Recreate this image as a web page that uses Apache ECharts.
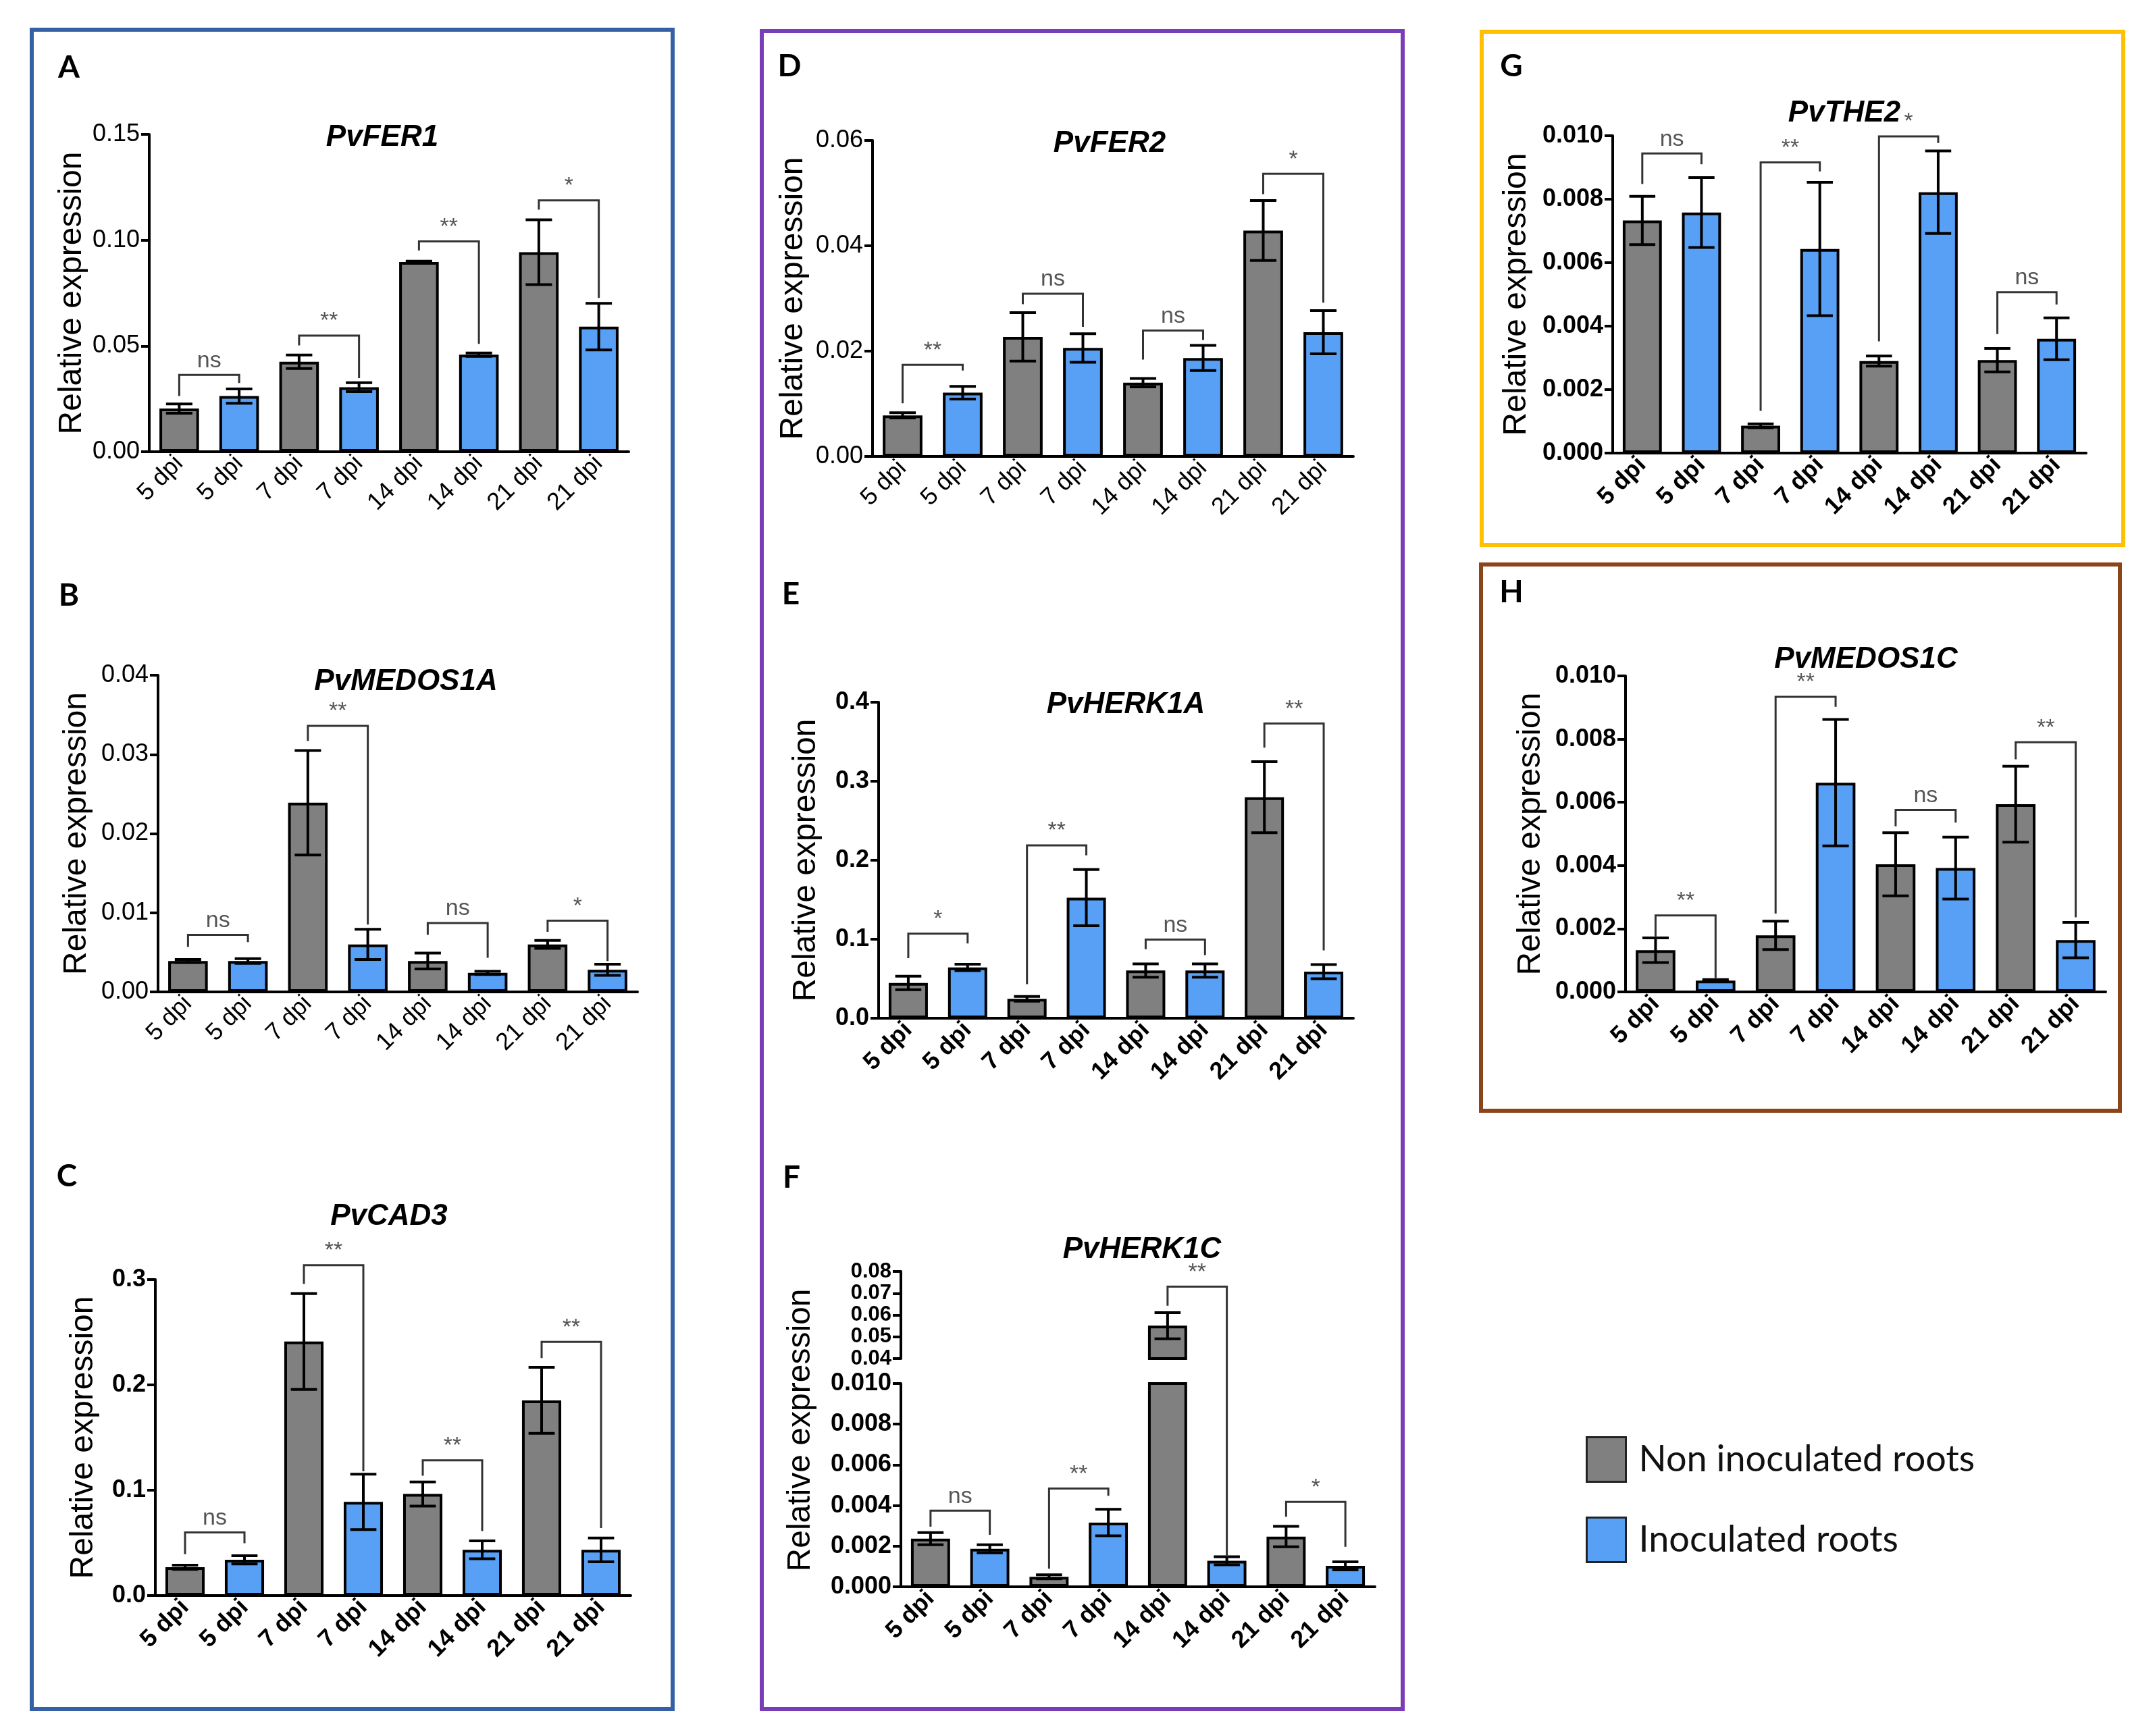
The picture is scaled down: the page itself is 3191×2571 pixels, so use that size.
<!DOCTYPE html>
<html>
<head>
<meta charset="utf-8">
<title>Relative expression - qRT-PCR panels A-H</title>
<script src="https://cdn.jsdelivr.net/npm/echarts@6.0.0/dist/echarts.min.js"></script>
<style>
  html, body { margin: 0; padding: 0; background: #fff; }
  #chart { width: 3191px; height: 2571px; }
</style>
</head>
<body>
<div id="chart"></div>
<script>
// categories, same on every panel (grey = non inoculated, blue = inoculated)
var dpi = ['5 dpi', '5 dpi', '7 dpi', '7 dpi', '14 dpi', '14 dpi', '21 dpi', '21 dpi'];
var groups = ['Non inoculated roots', 'Inoculated roots'];

// A - PvFER1
var fer1Mean = [0.0204, 0.0263, 0.0425, 0.0305, 0.0897, 0.0459, 0.0943, 0.0591];
var fer1Err = [0.0022, 0.0034, 0.0032, 0.0021, 0.0004, 0.0008, 0.0153, 0.011];
var fer1Sig = ['ns', '**', '**', '*'];
// bracket: [top, left leg end, right leg end]
var fer1Brk = [[0.0363, 0.0263, 0.0325], [0.0549, 0.0503, 0.0348], [0.0994, 0.0951, 0.051], [0.1188, 0.1144, 0.0727]];

// B - PvMEDOS1A
var medos1aMean = [0.0039, 0.0039, 0.0239, 0.006, 0.0039, 0.0024, 0.006, 0.0028];
var medos1aErr = [0.0002, 0.0003, 0.0066, 0.0019, 0.001, 0.0002, 0.0005, 0.0007];
var medos1aSig = ['ns', '**', 'ns', '*'];
var medos1aBrk = [[0.0072, 0.0057, 0.0063], [0.0336, 0.0317, 0.0085], [0.0087, 0.0072, 0.0043], [0.009, 0.0076, 0.0039]];

// C - PvCAD3
var cad3Mean = [0.0269, 0.0339, 0.2412, 0.089, 0.0964, 0.0434, 0.1853, 0.0434];
var cad3Err = [0.002, 0.004, 0.0455, 0.0263, 0.0115, 0.0085, 0.0313, 0.0113];
var cad3Sig = ['ns', '**', '**', '**'];
var cad3Brk = [[0.06, 0.0393, 0.0496], [0.3136, 0.2958, 0.1179], [0.1283, 0.1138, 0.0612], [0.2408, 0.2255, 0.0641]];

// D - PvFER2
var fer2Mean = [0.0078, 0.0121, 0.0227, 0.0206, 0.014, 0.0187, 0.0429, 0.0236];
var fer2Err = [0.0005, 0.0012, 0.0046, 0.0027, 0.0008, 0.0024, 0.0057, 0.0041];
var fer2Sig = ['**', 'ns', 'ns', '*'];
var fer2Brk = [[0.0174, 0.0101, 0.0163], [0.0309, 0.0289, 0.0246], [0.0239, 0.0184, 0.0221], [0.0537, 0.0498, 0.0292]];

// E - PvHERK1A
var herk1aMean = [0.0447, 0.0643, 0.0245, 0.1526, 0.0604, 0.0604, 0.2798, 0.0589];
var herk1aErr = [0.0086, 0.004, 0.003, 0.0356, 0.0085, 0.0085, 0.045, 0.009];
var herk1aSig = ['*', '**', 'ns', '**'];
var herk1aBrk = [[0.107, 0.0761, 0.0947], [0.2189, 0.0432, 0.2061], [0.0996, 0.0874, 0.08], [0.373, 0.3426, 0.0859]];

// F - PvHERK1C (broken axis)
var herk1cMean = [0.00237, 0.00187, 0.00049, 0.00316, 0.0551, 0.00128, 0.00247, 0.00103];
var herk1cErr = [0.0003, 0.0002, 0.0001, 0.00065, 0.006, 0.0002, 0.0005, 0.0002];
var herk1cSig = ['ns', '**', '**', '*'];
var herk1cBrk = [[0.00375, 0.00296, 0.00256], [0.00483, 0.00089, 0.00448], [0.073, 0.0643, 0.00148], [0.00418, 0.00345, 0.00197]];

// G - PvTHE2
var the2Mean = [0.00733, 0.00758, 0.00086, 0.00643, 0.0029, 0.00822, 0.00293, 0.0036];
var the2Err = [0.00076, 0.0011, 0.00006, 0.0021, 0.00016, 0.0013, 0.00037, 0.00066];
var the2Sig = ['ns', '**', '*', 'ns'];
var the2Brk = [[0.00944, 0.00848, 0.0091], [0.00916, 0.00133, 0.00887], [0.00998, 0.00352, 0.00977], [0.00507, 0.00375, 0.00468]];

// H - PvMEDOS1C
var medos1cMean = [0.00132, 0.00036, 0.00179, 0.00662, 0.00404, 0.00392, 0.00594, 0.00164];
var medos1cErr = [0.00039, 0.00003, 0.00045, 0.002, 0.001, 0.00098, 0.0012, 0.00056];
var medos1cSig = ['**', '**', 'ns', '**'];
var medos1cBrk = [[0.00242, 0.00176, 0.00044], [0.00934, 0.00248, 0.00902], [0.00576, 0.00524, 0.00536], [0.0079, 0.00736, 0.00236]];

var ARIAL = '"Liberation Sans", Arial, sans-serif';
var GREY = '#808080', BLUE = '#57a0f6';

// layout of each panel: box = [axis x, top, x end, zero line]
var panels = [
  { gene: 'PvFER1', tag: 'A', mean: fer1Mean, err: fer1Err, sig: fer1Sig, brk: fer1Brk, max: 0.15, step: 0.05, dec: 2,
    box: [221, 199, 931, 669], title: [566, 204], tagPos: [102, 100], nameGap: 90, bold: false },
  { gene: 'PvMEDOS1A', tag: 'B', mean: medos1aMean, err: medos1aErr, sig: medos1aSig, brk: medos1aBrk, max: 0.04, step: 0.01, dec: 2,
    box: [234, 1000, 944, 1469], title: [601, 1010], tagPos: [102, 882], nameGap: 96, bold: false },
  { gene: 'PvCAD3', tag: 'C', mean: cad3Mean, err: cad3Err, sig: cad3Sig, brk: cad3Brk, max: 0.3, step: 0.1, dec: 1,
    box: [230, 1895, 934, 2363], title: [576, 1802], tagPos: [99, 1742], nameGap: 82, bold: true },
  { gene: 'PvFER2', tag: 'D', mean: fer2Mean, err: fer2Err, sig: fer2Sig, brk: fer2Brk, max: 0.06, step: 0.02, dec: 2,
    box: [1292, 208, 2004, 676], title: [1643, 213], tagPos: [1169, 98], nameGap: 93, bold: false },
  { gene: 'PvHERK1A', tag: 'E', mean: herk1aMean, err: herk1aErr, sig: herk1aSig, brk: herk1aBrk, max: 0.4, step: 0.1, dec: 1,
    box: [1301, 1040, 2004, 1508], title: [1667, 1044], tagPos: [1171, 880], nameGap: 83, bold: true },
  { gene: 'PvHERK1C', tag: 'F', mean: herk1cMean, err: herk1cErr, sig: herk1cSig, brk: herk1cBrk, max: 0.01, step: 0.002, dec: 3,
    box: [1334, 2049, 2036, 2350], title: [1691, 1851], tagPos: [1172, 1744], bold: true,
    split: { min: 0.04, max: 0.08, step: 0.01, dec: 2, top: 1883, bottom: 2012, font: 31 }, yTitle: [1186, 2118] },
  { gene: 'PvTHE2', tag: 'G', mean: the2Mean, err: the2Err, sig: the2Sig, brk: the2Brk, max: 0.01, step: 0.002, dec: 3,
    box: [2388, 201, 3089, 671], title: [2731, 168], tagPos: [2238, 98], nameGap: 118, bold: true },
  { gene: 'PvMEDOS1C', tag: 'H', mean: medos1cMean, err: medos1cErr, sig: medos1cSig, brk: medos1cBrk, max: 0.01, step: 0.002, dec: 3,
    box: [2407, 1001, 3118, 1469], title: [2763, 977], tagPos: [2238, 877], nameGap: 116, bold: true }
];

var frames = [
  { r: [47, 44, 996, 2531], c: '#3560a5' },
  { r: [1128, 46, 2077, 2531], c: '#7a3db8' },
  { r: [2194, 47, 3144, 807], c: '#ffc000' },
  { r: [2193, 836, 3139, 1645], c: '#8c4419' }
];

var grids = [], xAxes = [], yAxes = [], series = [], graphics = [];

function xAxisFor(gi, p, show) {
  return {
    gridIndex: gi, type: 'category', data: dpi, show: show,
    axisLine: { lineStyle: { color: '#000', width: 4 } },
    axisTick: { alignWithLabel: true, length: 12, lineStyle: { color: '#000', width: 4 } },
    axisLabel: { interval: 0, rotate: 45, margin: 12, color: '#000', fontSize: 36,
      fontFamily: ARIAL, fontWeight: p.bold ? 'bold' : 'normal' },
    splitLine: { show: false }
  };
}

function yAxisFor(gi, p, min, max, step, dec, withName, font) {
  var ax = {
    gridIndex: gi, type: 'value', min: min, max: max, interval: step,
    axisLine: { show: true, lineStyle: { color: '#000', width: 4 } },
    axisTick: { show: true, length: 12, lineStyle: { color: '#000', width: 4 } },
    axisLabel: { margin: 14, color: '#000', fontSize: font || 36, fontFamily: ARIAL,
      fontWeight: p.bold ? 'bold' : 'normal', showMinLabel: true, showMaxLabel: true,
      formatter: function (v) { return v.toFixed(dec); } },
    splitLine: { show: false }
  };
  if (withName) {
    ax.name = 'Relative expression';
    ax.nameLocation = 'middle';
    ax.nameGap = p.nameGap;
    ax.nameTextStyle = { fontSize: 48, fontFamily: ARIAL, color: '#000' };
  }
  return ax;
}

function addBars(gi, p, keep) {
  [GREY, BLUE].forEach(function (col, g) {
    series.push({
      type: 'bar', name: groups[g], xAxisIndex: gi, yAxisIndex: gi,
      data: p.mean.map(function (v, k) { return (k % 2 === g && keep(v)) ? v : '-'; }),
      barWidth: '66%', barGap: '-100%', clip: true, silent: true,
      itemStyle: { color: col, borderColor: '#000', borderWidth: 4 },
      z: 2
    });
  });
}

function errRender(lo, hi) {
  return function (params, api) {
    var m = api.value(1), e = api.value(2), i = api.value(0);
    if (m < lo || m > hi) return null;
    var t = api.coord([i, m + e]), b = api.coord([i, m - e]);
    var half = api.size([1, 0])[0] * 0.22;
    var st = { stroke: '#000', lineWidth: 4 };
    return { type: 'group', children: [
      { type: 'line', shape: { x1: t[0], y1: t[1], x2: b[0], y2: b[1] }, style: st },
      { type: 'line', shape: { x1: t[0] - half, y1: t[1], x2: t[0] + half, y2: t[1] }, style: st },
      { type: 'line', shape: { x1: b[0] - half, y1: b[1], x2: b[0] + half, y2: b[1] }, style: st }
    ] };
  };
}

function addErrors(gi, p, lo, hi) {
  series.push({
    type: 'custom', xAxisIndex: gi, yAxisIndex: gi, silent: true, z: 4,
    data: p.mean.map(function (v, k) { return [k, v, p.err[k]]; }),
    renderItem: errRender(lo, hi)
  });
}

// part: 'all', 'lower' or 'upper' (for the broken axis of F)
function brkRender(p, part) {
  var gap = p.split ? p.box[1] - p.split.bottom : 0;
  return function (params, api) {
    var k = params.dataIndex, b = p.brk[k];
    var i0 = 2 * k, i1 = 2 * k + 1;
    var high = !!p.split && b[0] > p.max;
    var st = { stroke: '#333', lineWidth: 3, fill: null };
    if (part === 'lower' && high) {
      var a = api.coord([i1, p.max]), c = api.coord([i1, b[2]]);
      return { type: 'line', shape: { x1: a[0], y1: a[1] - gap, x2: c[0], y2: c[1] }, style: st };
    }
    if (part === 'upper' && !high) return null;
    var tl = api.coord([i0, b[0]]), tr = api.coord([i1, b[0]]);
    var bl = api.coord([i0, b[1]]);
    var br = (part === 'upper' && b[2] < p.split.min) ? api.coord([i1, p.split.min]) : api.coord([i1, b[2]]);
    return { type: 'group', children: [
      { type: 'polyline', shape: { points: [bl, tl, tr, br] }, style: st },
      { type: 'text', x: (tl[0] + tr[0]) / 2, y: tl[1] - 4,
        style: { text: p.sig[k], fill: '#555', font: '34px ' + ARIAL,
          align: 'center', verticalAlign: 'bottom', textAlign: 'center', textVerticalAlign: 'bottom' } }
    ] };
  };
}

function addBrackets(gi, p, part) {
  series.push({
    type: 'custom', xAxisIndex: gi, yAxisIndex: gi, silent: true, z: 5,
    data: p.brk.map(function (b, k) { return [2 * k, b[0]]; }),
    renderItem: brkRender(p, part)
  });
}

function txt(x, y, text, font, rot) {
  graphics.push({ type: 'text', x: x, y: y, rotation: rot || 0, silent: true,
    style: { text: text, font: font, fill: '#000', align: 'center', verticalAlign: 'middle',
      textAlign: 'center', textVerticalAlign: 'middle' } });
}

panels.forEach(function (p) {
  var gi = grids.length;
  grids.push({ left: p.box[0], top: p.box[1], width: p.box[2] - p.box[0], height: p.box[3] - p.box[1] });
  xAxes.push(xAxisFor(gi, p, true));
  yAxes.push(yAxisFor(gi, p, 0, p.max, p.step, p.dec, !p.split));
  addBars(gi, p, function () { return true; });
  if (p.split) {
    addErrors(gi, p, -Infinity, p.max);
    addBrackets(gi, p, 'lower');
    var gu = grids.length, s = p.split;
    grids.push({ left: p.box[0], top: s.top, width: p.box[2] - p.box[0], height: s.bottom - s.top });
    xAxes.push(xAxisFor(gu, p, false));
    yAxes.push(yAxisFor(gu, p, s.min, s.max, s.step, s.dec, false, s.font));
    addBars(gu, p, function (v) { return v > s.min; });
    addErrors(gu, p, s.min, Infinity);
    addBrackets(gu, p, 'upper');
    txt(p.yTitle[0], p.yTitle[1], 'Relative expression', '48px ' + ARIAL, Math.PI / 2);
  } else {
    addErrors(gi, p, -Infinity, Infinity);
    addBrackets(gi, p, 'all');
  }
  txt(p.title[0], p.title[1], p.gene, 'italic bold 44px ' + ARIAL);
  txt(p.tagPos[0], p.tagPos[1], p.tag, 'bold 46px Lato, ' + ARIAL);
});

frames.forEach(function (f) {
  graphics.push({ type: 'rect', silent: true, z: 0,
    shape: { x: f.r[0], y: f.r[1], width: f.r[2] - f.r[0], height: f.r[3] - f.r[1] },
    style: { fill: null, stroke: f.c, lineWidth: 6 } });
});

var chart = echarts.init(document.getElementById('chart'), null, { renderer: 'canvas' });
chart.setOption({
  backgroundColor: '#fff',
  animation: false,
  grid: grids,
  xAxis: xAxes,
  yAxis: yAxes,
  legend: {
    data: groups, orient: 'vertical', left: 2343, top: 2122, icon: 'rect',
    itemWidth: 58, itemHeight: 66, itemGap: 50, selectedMode: false,
    itemStyle: { borderColor: '#222', borderWidth: 3 },
    textStyle: { fontSize: 54, fontFamily: 'Lato, "Open Sans", sans-serif', color: '#111', padding: [0, 0, 0, 14] }
  },
  graphic: graphics,
  series: series
});
</script>
</body>
</html>
